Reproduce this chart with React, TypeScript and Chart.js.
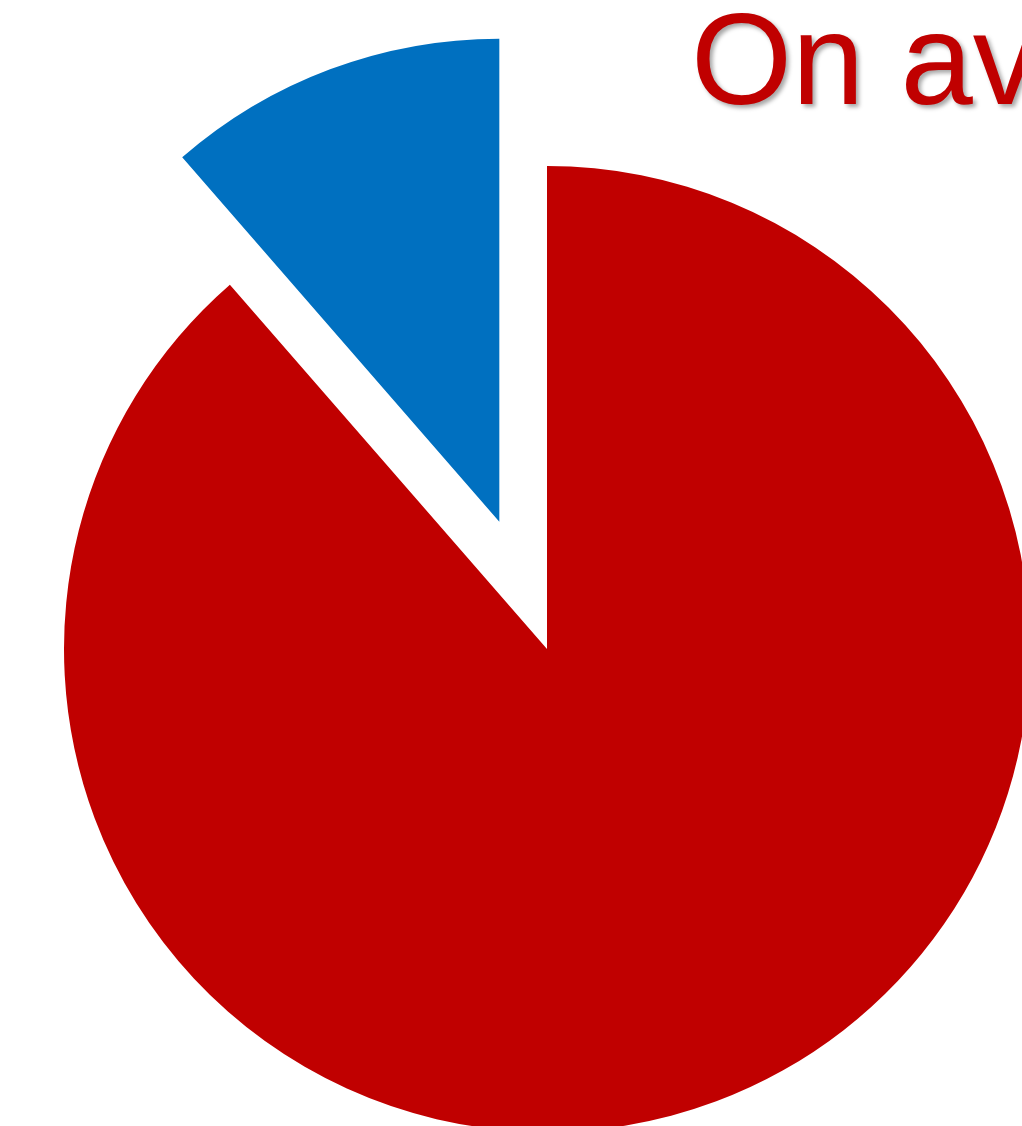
import React, { useEffect, useRef } from "react";
import { Chart, registerables } from "chart.js";

Chart.register(...registerables);

const labels = ["Remainder", "Share"];
const values = [88.6, 11.4];
const colors = ["#C00000", "#0070C0"];
const explodeDistance = [0, 136]; // pulled-out distance of each slice
const titleText = "On average";

// Pull exploded slices out along their mid angle, keeping their radius
const explodePlugin = {
  id: "explodePlugin",
  afterDatasetsUpdate(chart: any) {
    const meta = chart.getDatasetMeta(0);
    meta.data.forEach((arc: any, i: number) => {
      const d = explodeDistance[i] || 0;
      if (!d) return;
      const mid = (arc.startAngle + arc.endAngle) / 2;
      arc.x = arc.x + Math.cos(mid) * d;
      arc.y = arc.y + Math.sin(mid) * d;
    });
  },
};

export default function App() {
  const ref = useRef<HTMLCanvasElement | null>(null);
  useEffect(() => {
    if (!ref.current) return;
    const chart = new Chart(ref.current, {
      type: "pie",
      data: {
        labels,
        datasets: [
          {
            data: values,
            backgroundColor: colors,
            borderWidth: 0,
            hoverOffset: 0,
            clip: false,
          } as any,
        ],
      },
      options: {
        responsive: false,
        animation: false,
        devicePixelRatio: 1,
        radius: 483,
        layout: { padding: 0 },
        plugins: {
          legend: { display: false },
          tooltip: { enabled: false },
          title: { display: false },
        },
      } as any,
      plugins: [explodePlugin],
    });
    return () => chart.destroy();
  }, []);

  return (
    <div
      style={{
        position: "fixed",
        left: 0,
        top: 0,
        width: 1022,
        height: 1126,
        overflow: "hidden",
        background: "#ffffff",
      }}
    >
      <canvas
        ref={ref}
        width={1094}
        height={1298}
        style={{ position: "absolute", left: 0, top: 0, width: 1094, height: 1298 }}
      />
      <div
        style={{
          position: "absolute",
          left: 691,
          top: -6,
          fontFamily: "'Liberation Sans', Arial, sans-serif",
          fontSize: 130,
          lineHeight: "130px",
          color: "#C00000",
          whiteSpace: "nowrap",
          textShadow: "3px 3px 4px rgba(0,0,0,0.35)",
        }}
      >
        {titleText}
      </div>
    </div>
  );
}
